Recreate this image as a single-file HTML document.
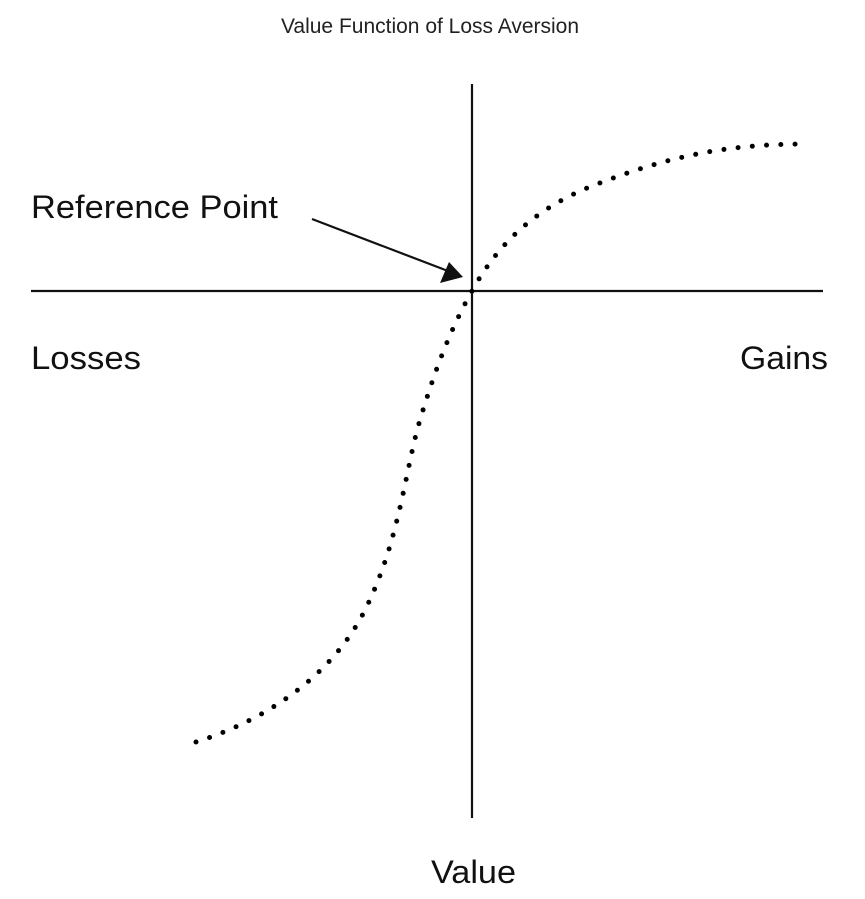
<!DOCTYPE html>
<html><head><style>html,body{margin:0;padding:0;background:#fff}svg{display:block}</style></head>
<body>
<svg width="865" height="899" xmlns="http://www.w3.org/2000/svg">
<text x="430" y="33" text-anchor="middle" font-family="Liberation Sans, sans-serif" font-size="21" fill="#222">Value Function of Loss Aversion</text>
<line x1="472" y1="84" x2="472" y2="818" stroke="#111" stroke-width="2.2"/>
<line x1="31" y1="291" x2="823" y2="291" stroke="#111" stroke-width="2.2"/>
<line x1="312" y1="219" x2="448" y2="271" stroke="#111" stroke-width="2.2"/>
<polygon points="463,277 440,283 449,262" fill="#111"/>
<path d="M196,742 C260,722 330,680 365,610 C400,540 405,470 420,420 C435,370 450,330 472,291 C500,240 540,205 600,183 C680,152 740,144 808,144" fill="none" stroke="#000" stroke-width="5" stroke-linecap="round" stroke-dasharray="0 14.3"/>
<g font-family="Liberation Sans, sans-serif" font-size="32" fill="#111">
<text x="31" y="218" textLength="247" lengthAdjust="spacingAndGlyphs">Reference Point</text>
<text x="31" y="369" textLength="110" lengthAdjust="spacingAndGlyphs">Losses</text>
<text x="740" y="369" textLength="88" lengthAdjust="spacingAndGlyphs">Gains</text>
<text x="431" y="883" textLength="85" lengthAdjust="spacingAndGlyphs">Value</text>
</g>
</svg>
</body></html>
